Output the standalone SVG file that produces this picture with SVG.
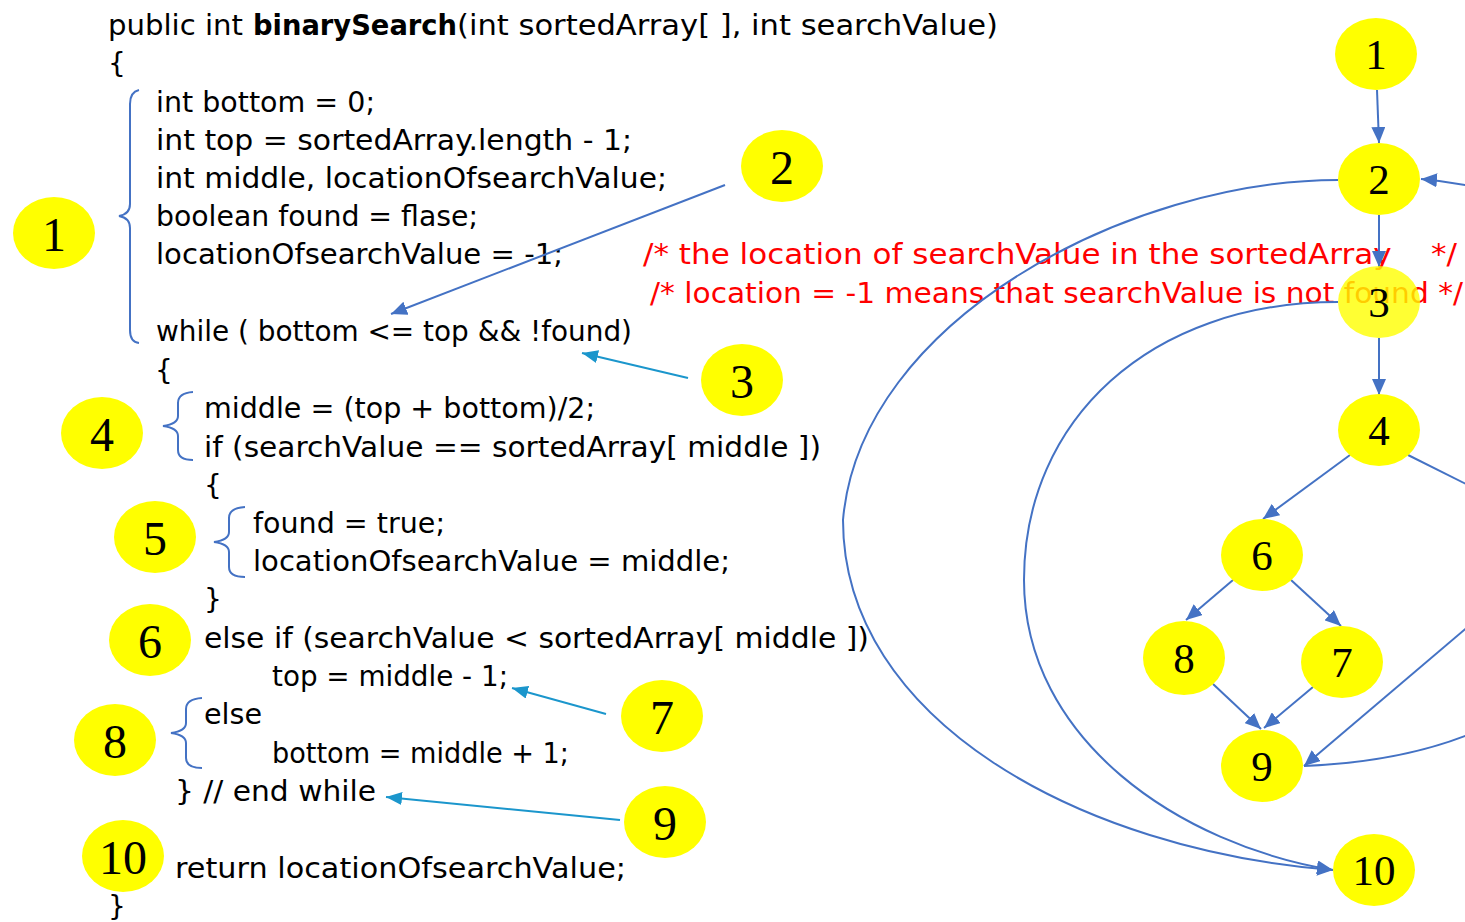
<svg xmlns="http://www.w3.org/2000/svg" width="1465" height="922" viewBox="0 0 1465 922">
  <style>
    .code { font-family: "DejaVu Sans", "Liberation Sans", sans-serif; font-size: 28px; fill: #000; }
    .bold { font-weight: bold; }
    .comment { font-family: "DejaVu Sans", "Liberation Sans", sans-serif; font-size: 28px; fill: #FF0000; white-space: pre; }
    .label ellipse, .node ellipse { fill: #FFFF00; }
    .label text { font-family: "Liberation Serif", "Times New Roman", serif; font-size: 48px; fill: #000; text-anchor: middle; }
    .node text { font-family: "Liberation Serif", "Times New Roman", serif; font-size: 43px; fill: #000; text-anchor: middle; }
    .brace { fill: none; stroke: #4472C4; stroke-width: 2; }
    .edge { fill: none; stroke: #4472C4; stroke-width: 2; }
    .pointer { fill: none; stroke: #1B96CC; stroke-width: 2; }
  </style>
  <defs>
    <marker id="ah-blue" viewBox="0 0 16 14" refX="16" refY="7" markerWidth="16" markerHeight="14" orient="auto" markerUnits="userSpaceOnUse">
      <path d="M0,0 L16,7 L0,14 z" fill="#4472C4"/>
    </marker>
    <marker id="ah-cyan" viewBox="0 0 16 13" refX="16" refY="6.5" markerWidth="16" markerHeight="13" orient="auto" markerUnits="userSpaceOnUse">
      <path d="M0,0 L16,6.5 L0,13 z" fill="#1B96CC"/>
    </marker>
  </defs>

  <!-- Java source of binarySearch -->
  <g id="code">
    <text class="code" x="108" y="35" textLength="135" lengthAdjust="spacingAndGlyphs">public int</text>
    <text class="code bold" x="253" y="35" textLength="204" lengthAdjust="spacingAndGlyphs">binarySearch</text>
    <text class="code" x="457" y="35" textLength="541" lengthAdjust="spacingAndGlyphs">(int sortedArray[ ], int searchValue)</text>
    <text class="code" x="108" y="73">{</text>
    <text class="code" x="156" y="112" textLength="219" lengthAdjust="spacingAndGlyphs">int bottom = 0;</text>
    <text class="code" x="156" y="150" textLength="476" lengthAdjust="spacingAndGlyphs">int top = sortedArray.length - 1;</text>
    <text class="code" x="156" y="188" textLength="511" lengthAdjust="spacingAndGlyphs">int middle, locationOfsearchValue;</text>
    <text class="code" x="156" y="226" textLength="322" lengthAdjust="spacingAndGlyphs">boolean found = flase;</text>
    <text class="code" x="156" y="264" textLength="407" lengthAdjust="spacingAndGlyphs">locationOfsearchValue = -1;</text>
    <text class="code" x="156" y="341" textLength="476" lengthAdjust="spacingAndGlyphs">while ( bottom &lt;= top &amp;&amp; !found)</text>
    <text class="code" x="155" y="380">{</text>
    <text class="code" x="204" y="418" textLength="391" lengthAdjust="spacingAndGlyphs">middle = (top + bottom)/2;</text>
    <text class="code" x="204" y="457" textLength="617" lengthAdjust="spacingAndGlyphs">if (searchValue == sortedArray[ middle ])</text>
    <text class="code" x="204" y="495">{</text>
    <text class="code" x="253" y="533" textLength="192" lengthAdjust="spacingAndGlyphs">found = true;</text>
    <text class="code" x="253" y="571" textLength="477" lengthAdjust="spacingAndGlyphs">locationOfsearchValue = middle;</text>
    <text class="code" x="204" y="609">}</text>
    <text class="code" x="204" y="648" textLength="665" lengthAdjust="spacingAndGlyphs">else if (searchValue &lt; sortedArray[ middle ])</text>
    <text class="code" x="272" y="686" textLength="236" lengthAdjust="spacingAndGlyphs">top = middle - 1;</text>
    <text class="code" x="204" y="724" textLength="58" lengthAdjust="spacingAndGlyphs">else</text>
    <text class="code" x="272" y="763" textLength="297" lengthAdjust="spacingAndGlyphs">bottom = middle + 1;</text>
    <text class="code" x="175" y="801" textLength="201" lengthAdjust="spacingAndGlyphs">} // end while</text>
    <text class="code" x="175" y="878" textLength="451" lengthAdjust="spacingAndGlyphs">return locationOfsearchValue;</text>
    <text class="code" x="108" y="916">}</text>
    <text class="comment" xml:space="preserve" x="643" y="264" textLength="814" lengthAdjust="spacingAndGlyphs">/* the location of searchValue in the sortedArray    */</text>
    <text class="comment" x="650" y="303" textLength="813" lengthAdjust="spacingAndGlyphs">/* location = -1 means that searchValue is not found */</text>
  </g>

  <!-- braces grouping statements into blocks -->
  <g id="braces">
    <path class="brace" d="M139,90 Q130,92 130,104 L130,204 Q130,214 119,216 Q130,218 130,228 L130,330 Q130,342 139,343"/>
    <path class="brace" d="M193,392 Q178,393 178,403 L178,416 Q178,424 163,426 Q178,428 178,436 L178,450 Q178,460 193,460"/>
    <path class="brace" d="M245,507 Q229,508 229,518 L229,532 Q229,540 214,542 Q229,544 229,552 L229,567 Q229,577 245,577"/>
    <path class="brace" d="M202,698 Q186,699 186,709 L186,723 Q186,731 171,733 Q186,735 186,743 L186,758 Q186,768 202,768"/>
  </g>

  <!-- pointers from block numbers to statements -->
  <g id="pointers">
    <line x1="725" y1="185" x2="391" y2="314" stroke="#4472C4" stroke-width="2" marker-end="url(#ah-blue)"/>
    <line class="pointer" x1="688" y1="378" x2="582" y2="353" marker-end="url(#ah-cyan)"/>
    <line class="pointer" x1="606" y1="714" x2="512" y2="688" marker-end="url(#ah-cyan)"/>
    <line class="pointer" x1="620" y1="820" x2="386" y2="797" marker-end="url(#ah-cyan)"/>
  </g>

  <!-- block number labels -->
  <g id="label-1" class="label"><ellipse cx="54" cy="233" rx="41" ry="36"/><text x="54" y="251">1</text></g>
  <g id="label-2" class="label"><ellipse cx="782" cy="166" rx="41" ry="36"/><text x="782" y="184">2</text></g>
  <g id="label-3" class="label"><ellipse cx="742" cy="380" rx="41" ry="36"/><text x="742" y="398">3</text></g>
  <g id="label-4" class="label"><ellipse cx="102" cy="433" rx="41" ry="36"/><text x="102" y="451">4</text></g>
  <g id="label-5" class="label"><ellipse cx="155" cy="537" rx="41" ry="36"/><text x="155" y="555">5</text></g>
  <g id="label-6" class="label"><ellipse cx="150" cy="640" rx="41" ry="36"/><text x="150" y="658">6</text></g>
  <g id="label-7" class="label"><ellipse cx="662" cy="716" rx="41" ry="36"/><text x="662" y="734">7</text></g>
  <g id="label-8" class="label"><ellipse cx="115" cy="740" rx="41" ry="36"/><text x="115" y="758">8</text></g>
  <g id="label-9" class="label"><ellipse cx="665" cy="822" rx="41" ry="36"/><text x="665" y="840">9</text></g>
  <g id="label-10" class="label"><ellipse cx="123" cy="856" rx="41" ry="36"/><text x="123" y="874">10</text></g>

  <!-- control flow graph edges -->
  <g id="edges">
    <line class="edge" x1="1377" y1="90" x2="1379" y2="143" marker-end="url(#ah-blue)"/>
    <line class="edge" x1="1379" y1="215" x2="1379" y2="267" marker-end="url(#ah-blue)"/>
    <line class="edge" x1="1379" y1="338" x2="1379" y2="395" marker-end="url(#ah-blue)"/>
    <line class="edge" x1="1350" y1="455" x2="1263" y2="519" marker-end="url(#ah-blue)"/>
    <line class="edge" x1="1408" y1="455" x2="1470" y2="486"/>
    <line class="edge" x1="1233" y1="580" x2="1186" y2="620" marker-end="url(#ah-blue)"/>
    <line class="edge" x1="1291" y1="580" x2="1341" y2="626" marker-end="url(#ah-blue)"/>
    <line class="edge" x1="1213" y1="684" x2="1261" y2="729" marker-end="url(#ah-blue)"/>
    <line class="edge" x1="1313" y1="687" x2="1264" y2="728" marker-end="url(#ah-blue)"/>
    <line class="edge" x1="1470" y1="625" x2="1304" y2="766" marker-end="url(#ah-blue)"/>
    <path class="edge" d="M1304,766 Q1400,762 1470,734"/>
    <path class="edge" d="M1470,186 Q1445,181 1421,179" marker-end="url(#ah-blue)"/>
    <path class="edge" d="M1338,180 C1130,180 860,320 843,520 C843,720 1080,850 1333,870" marker-end="url(#ah-blue)"/>
    <path class="edge" d="M1338,302 C1150,302 1024,420 1024,580 C1024,740 1180,845 1333,870" marker-end="url(#ah-blue)"/>
  </g>

  <!-- control flow graph nodes -->
  <g id="node-1" class="node"><ellipse cx="1376" cy="54" rx="41" ry="36"/><text x="1376" y="69">1</text></g>
  <g id="node-2" class="node"><ellipse cx="1379" cy="179" rx="41" ry="36"/><text x="1379" y="194">2</text></g>
  <g id="node-3" class="node"><ellipse cx="1379" cy="302" rx="41" ry="36" fill-opacity="0.8"/><text x="1379" y="317">3</text></g>
  <g id="node-4" class="node"><ellipse cx="1379" cy="430" rx="41" ry="36"/><text x="1379" y="445">4</text></g>
  <g id="node-6" class="node"><ellipse cx="1262" cy="555" rx="41" ry="36"/><text x="1262" y="570">6</text></g>
  <g id="node-8" class="node"><ellipse cx="1184" cy="658" rx="41" ry="37"/><text x="1184" y="673">8</text></g>
  <g id="node-7" class="node"><ellipse cx="1342" cy="662" rx="41" ry="36"/><text x="1342" y="677">7</text></g>
  <g id="node-9" class="node"><ellipse cx="1262" cy="766" rx="41" ry="36"/><text x="1262" y="781">9</text></g>
  <g id="node-10" class="node"><ellipse cx="1374" cy="870" rx="41" ry="36"/><text x="1374" y="885">10</text></g>
</svg>
